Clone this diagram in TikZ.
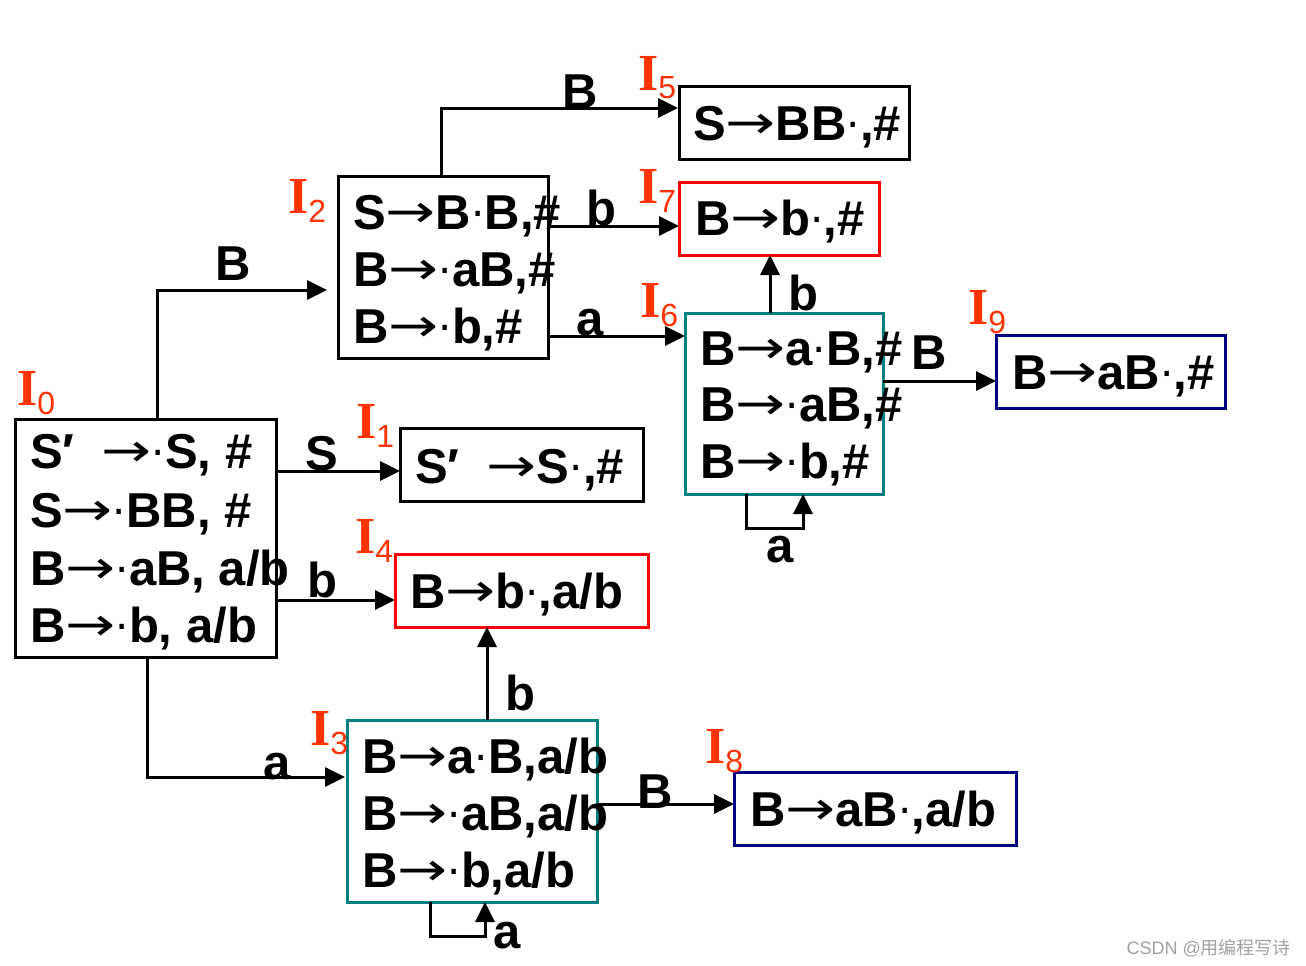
\documentclass[tikz,border=0pt]{standalone}
\usepackage{fontspec}
\setmainfont{Liberation Sans}
\newfontfamily\lblserif{Liberation Serif}
\newfontfamily\symfont{DejaVu Sans}
\newfontfamily\cjk{Noto Sans CJK SC}
\usetikzlibrary{arrows.meta}
\definecolor{lblred}{HTML}{FF3300}
\definecolor{tealc}{HTML}{008080}
\definecolor{navyc}{HTML}{000080}
\definecolor{wmgray}{HTML}{A0A0A0}
\tikzset{
  box/.style={draw=#1,line width=3pt,inner sep=0pt,outer sep=0pt},
  box/.default=black,
  itemtxt/.style={anchor=base west,inner sep=0pt,font=\fontsize{49}{57}\selectfont\bfseries},
  edgelbl/.style={anchor=base,inner sep=0pt,font=\fontsize{49}{57}\selectfont\bfseries},
  statelbl/.style={anchor=base west,inner sep=0pt,text=lblred},
  arr/.style={line width=3pt,-{Triangle[length=20pt,width=19pt]}},
  plain/.style={line width=3pt}
}
\newcommand{\ar}{{\symfont\mdseries\fontsize{46}{46}\selectfont\raisebox{2pt}{\scalebox{1.3}[1]{→}}}}
\newcommand{\dt}{{\symfont\mdseries\fontsize{42}{42}\selectfont\raisebox{1pt}{·}}}
\newcommand{\stlabel}[1]{{\fontsize{52}{52}\selectfont\lblserif\bfseries I}\raisebox{-9pt}{\fontsize{32}{32}\selectfont #1}}
\begin{document}
\begin{tikzpicture}[x=1pt,y=-1pt]
\useasboundingbox (0,0) rectangle (1306,966);
% boxes
\node[box,minimum width=261pt,minimum height=238pt] (I0) at (145.5,538) {};
\node[box,minimum width=243pt,minimum height=73pt] (I1) at (521.5,464.5) {};
\node[box=red,minimum width=253pt,minimum height=73pt] (I4) at (521.5,590.5) {};
\node[box,minimum width=210pt,minimum height=182pt] (I2) at (443,267) {};
\node[box,minimum width=230pt,minimum height=73pt] (I5) at (794,122.5) {};
\node[box=red,minimum width=200pt,minimum height=73pt] (I7) at (779,218.5) {};
\node[box=tealc,minimum width=198pt,minimum height=181pt] (I6) at (784,403.5) {};
\node[box=navyc,minimum width=229pt,minimum height=73pt] (I9) at (1110.5,371.5) {};
\node[box=tealc,minimum width=250pt,minimum height=182pt] (I3) at (472,811) {};
\node[box=navyc,minimum width=282pt,minimum height=73pt] (I8) at (875,808.5) {};
% items
\node[itemtxt] (t01) at (30,468) {S′\ \ \ar\dt S, \#};
\node[itemtxt] (t02) at (30,527) {S\ar\dt BB, \#};
\node[itemtxt] (t03) at (30,585) {B\ar\dt aB, a/b};
\node[itemtxt] (t04) at (30,642) {B\ar\dt b, a/b};
\node[itemtxt] (t11) at (415,483) {S′\ \ \ar S\dt,\#};
\node[itemtxt] (t41) at (410,608) {B\ar b\dt,a/b};
\node[itemtxt] (t21) at (353,229) {S\ar B\dt B,\#};
\node[itemtxt] (t22) at (353,286) {B\ar\dt aB,\#};
\node[itemtxt] (t23) at (353,343) {B\ar\dt b,\#};
\node[itemtxt] (t51) at (693,140) {S\ar BB\dt,\#};
\node[itemtxt] (t71) at (695,235) {B\ar b\dt,\#};
\node[itemtxt] (t61) at (700,365) {B\ar a\dt B,\#};
\node[itemtxt] (t62) at (700,421) {B\ar\dt aB,\#};
\node[itemtxt] (t63) at (700,478) {B\ar\dt b,\#};
\node[itemtxt] (t91) at (1012,389) {B\ar aB\dt,\#};
\node[itemtxt] (t31) at (362,773) {B\ar a\dt B,a/b};
\node[itemtxt] (t32) at (362,830) {B\ar\dt aB,a/b};
\node[itemtxt] (t33) at (362,887) {B\ar\dt b,a/b};
\node[itemtxt] (t81) at (750,826) {B\ar aB\dt,a/b};
% state labels
\node[statelbl] (l0) at (17,405) {\stlabel{0}};
\node[statelbl] (l1) at (356,438) {\stlabel{1}};
\node[statelbl] (l4) at (355,553) {\stlabel{4}};
\node[statelbl] (l2) at (288,213) {\stlabel{2}};
\node[statelbl] (l3) at (310,745) {\stlabel{3}};
\node[statelbl] (l5) at (638,90) {\stlabel{5}};
\node[statelbl] (l7) at (638,203) {\stlabel{7}};
\node[statelbl] (l6) at (640,317) {\stlabel{6}};
\node[statelbl] (l9) at (968,324) {\stlabel{9}};
\node[statelbl] (l8) at (705,763) {\stlabel{8}};
% connectors
\draw[arr] ([xshift=142pt]I0.north west) |- ([xshift=-11pt,yshift=-23pt]I2.west);
\draw[arr] ([yshift=67pt]I0.east) -- ([yshift=-6.5pt]I1.west);
\draw[arr] ([yshift=-62pt]I0.east) -- ([yshift=-9.5pt]I4.west);
\draw[arr] ([xshift=132pt]I0.south west) |- ([xshift=-2pt,yshift=34pt]I3.west);
\draw[arr] ([xshift=103pt]I2.north west) |- ([xshift=-1pt,yshift=14.5pt]I5.west);
\draw[arr] ([yshift=41pt]I2.east) -- ([yshift=-7.5pt]I7.west);
\draw[arr] ([yshift=-69pt]I2.east) -- ([yshift=67.5pt]I6.west);
\draw[arr] ([xshift=85pt]I6.north west) -- ([xshift=-9pt]I7.south);
\draw[arr] ([yshift=22.5pt]I6.east) -- ([yshift=-9.5pt]I9.west);
\draw[arr] ([xshift=61pt]I6.south west) -- ++(0,34) -| ([xshift=118pt]I6.south west);
\draw[arr] ([xshift=140pt]I3.north west) -- ([xshift=-34.5pt]I4.south);
\draw[arr] ([yshift=7pt]I3.east) -- ([yshift=4.5pt]I8.west);
\draw[arr] ([xshift=83pt]I3.south west) -- ++(0,34) -| ([xshift=138pt]I3.south west);
% edge labels
\node[edgelbl] (e1) at (233,280) {B};
\node[edgelbl] (e2) at (322,470) {S};
\node[edgelbl] (e3) at (322,597) {b};
\node[edgelbl] (e4) at (277,779) {a};
\node[edgelbl] (e5) at (580,108) {B};
\node[edgelbl] (e6) at (601,225) {b};
\node[edgelbl] (e7) at (590,335) {a};
\node[edgelbl] (e8) at (803,310) {b};
\node[edgelbl] (e9) at (929,369) {B};
\node[edgelbl] (e10) at (780,562) {a};
\node[edgelbl] (e11) at (520,710) {b};
\node[edgelbl] (e12) at (655,808) {B};
\node[edgelbl] (e13) at (507,948) {a};
% watermark
\node[anchor=base east,inner sep=0pt,text=wmgray,font=\fontsize{18}{20}\selectfont] (wm) at (1291,954) {CSDN @{\cjk 用编程写诗}};
\end{tikzpicture}
\end{document}
